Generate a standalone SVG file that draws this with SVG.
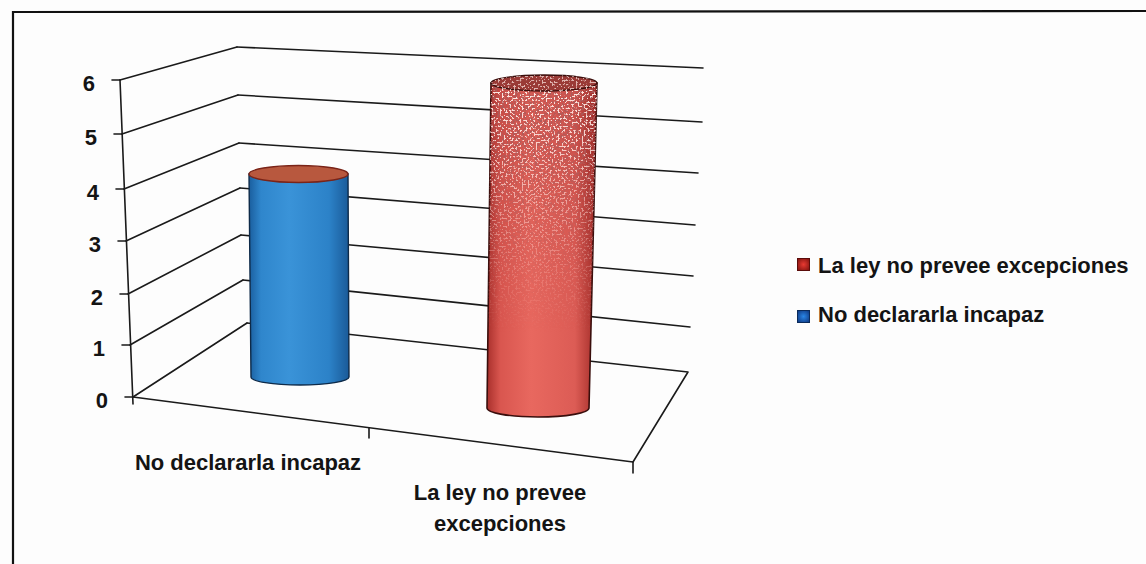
<svg xmlns="http://www.w3.org/2000/svg" width="1146" height="564" viewBox="0 0 1146 564">
<style>
.ln{stroke:#1a1a1a;stroke-width:1.6;fill:none;stroke-linecap:round;stroke-linejoin:round}
.tx{font-family:"Liberation Sans",Arial,sans-serif;font-weight:bold;font-size:22px;fill:#141414}
</style>
<defs>
<linearGradient id="gBlue" x1="0" y1="0" x2="1" y2="0">
<stop offset="0" stop-color="#1a5e9e"/>
<stop offset="0.12" stop-color="#2f86cc"/>
<stop offset="0.4" stop-color="#3a93d8"/>
<stop offset="0.8" stop-color="#2c82c8"/>
<stop offset="1" stop-color="#1a5a98"/>
</linearGradient>
<linearGradient id="gRed" x1="0" y1="0" x2="1" y2="0">
<stop offset="0" stop-color="#a9302c"/>
<stop offset="0.12" stop-color="#d9564f"/>
<stop offset="0.4" stop-color="#e8685f"/>
<stop offset="0.8" stop-color="#dc5c55"/>
<stop offset="1" stop-color="#a02a26"/>
</linearGradient>
<linearGradient id="gFade" x1="0" y1="0" x2="0" y2="1">
<stop offset="0" stop-color="#fff" stop-opacity="1"/>
<stop offset="0.2" stop-color="#fff" stop-opacity="0.85"/>
<stop offset="0.4" stop-color="#fff" stop-opacity="0.45"/>
<stop offset="0.6" stop-color="#fff" stop-opacity="0.15"/>
<stop offset="0.75" stop-color="#fff" stop-opacity="0"/>
</linearGradient>
<mask id="mFade" maskContentUnits="userSpaceOnUse">
<rect x="480" y="70" width="130" height="350" fill="url(#gFade)"/>
</mask>
<clipPath id="cRed">
<path d="M491,83 L487,408 A51,9 0 0 0 589,408 L597,83 A53,8 0 0 0 491,83 Z"/>
</clipPath>
<filter id="fDark" x="0" y="0" width="1" height="1">
<feTurbulence type="fractalNoise" baseFrequency="0.45" numOctaves="2" seed="4"/>
<feColorMatrix type="matrix" values="0 0 0 0 0.4  0 0 0 0 0.1  0 0 0 0 0.1  12 0 0 0 -6.3"/>
</filter>
<filter id="fLight" x="0" y="0" width="1" height="1">
<feTurbulence type="fractalNoise" baseFrequency="0.5" numOctaves="2" seed="11"/>
<feColorMatrix type="matrix" values="0 0 0 0 0.98  0 0 0 0 0.8  0 0 0 0 0.76  12 0 0 0 -6.6"/>
</filter>
<radialGradient id="gLegR" cx="0.5" cy="0.5" r="0.6">
<stop offset="0" stop-color="#e83a32"/>
<stop offset="1" stop-color="#8a1612"/>
</radialGradient>
<radialGradient id="gLegB" cx="0.5" cy="0.5" r="0.6">
<stop offset="0" stop-color="#2a86e6"/>
<stop offset="1" stop-color="#103e8a"/>
</radialGradient>
</defs>

<rect width="1146" height="564" fill="#fdfdfd"/>

<g id="frame">
<path d="M13,564 L13,12 L1146,11" stroke="#111" stroke-width="2.2" fill="none"/>
</g>

<g id="connectors">
<path class="ln" d="M120,80 L133,404"/>
<path class="ln" d="M112,80 H120 M114,134 H122 M116,189 H124 M118,241 H126 M120,294 H128 M122,345 H130 M125,397 H133"/>
<path class="ln" d="M120,80 L237,47 M122,134 L238,95 M124,189 L239,143 M126,241 L240,188 M128,294 L241,235 M130,345 L243,280 M133,397 L247,323"/>
<path class="ln" d="M237,47 L703,68 M238,95 L702,122 M239,143 L698,173 M240,188 L695,225 M241,235 L693,276 M243,280 L690,327"/>
<path class="ln" d="M247,323 L688,372 L633,462 L133,397"/>
<path class="ln" d="M369,428 V438 M633,462 V473"/>
</g>

<g id="bar-no-declararla">
<path d="M249,174 L251,377 A49,8 0 0 0 349,377 L348,174 Z" fill="url(#gBlue)" stroke="#0e2a48" stroke-width="1.4"/>
<ellipse cx="298.5" cy="174" rx="49.5" ry="8.5" fill="#b8583e" stroke="#7a2418" stroke-width="1.4"/>
</g>

<g id="bar-la-ley">
<path d="M491,83 L487,408 A51,9 0 0 0 589,408 L597,83 Z" fill="url(#gRed)" stroke="#3a0e0c" stroke-width="1.6"/>
<g clip-path="url(#cRed)" mask="url(#mFade)">
<rect x="480" y="70" width="130" height="350" fill="#8a2a28" opacity="0.2"/>
<rect x="480" y="70" width="130" height="350" filter="url(#fDark)"/>
<rect x="480" y="70" width="130" height="350" filter="url(#fLight)"/>
</g>
<ellipse cx="544" cy="83" rx="53" ry="8" fill="#9a3a36" stroke="#3a0e0c" stroke-width="1.4"/>
<g clip-path="url(#cRed)">
<rect x="480" y="70" width="130" height="30" filter="url(#fLight)" opacity="0.7"/>
</g>
</g>

<g id="axis-labels">
<text class="tx" x="95" y="91" text-anchor="end">6</text>
<text class="tx" x="97" y="145" text-anchor="end">5</text>
<text class="tx" x="99" y="200" text-anchor="end">4</text>
<text class="tx" x="101" y="252" text-anchor="end">3</text>
<text class="tx" x="103" y="305" text-anchor="end">2</text>
<text class="tx" x="105" y="356" text-anchor="end">1</text>
<text class="tx" x="108" y="408" text-anchor="end">0</text>
<text class="tx" x="248" y="470" text-anchor="middle">No declararla incapaz</text>
<text class="tx" x="500" y="500" text-anchor="middle">La ley no prevee</text>
<text class="tx" x="500" y="531" text-anchor="middle">excepciones</text>
</g>

<g id="legend">
<rect x="797.5" y="258.5" width="12" height="12" fill="url(#gLegR)" stroke="#5a0c0a" stroke-width="1"/>
<text class="tx" x="818" y="273">La ley no prevee excepciones</text>
<rect x="797.5" y="310.5" width="12" height="12" fill="url(#gLegB)" stroke="#0a2a5a" stroke-width="1"/>
<text class="tx" x="818" y="322">No declararla incapaz</text>
</g>
</svg>
